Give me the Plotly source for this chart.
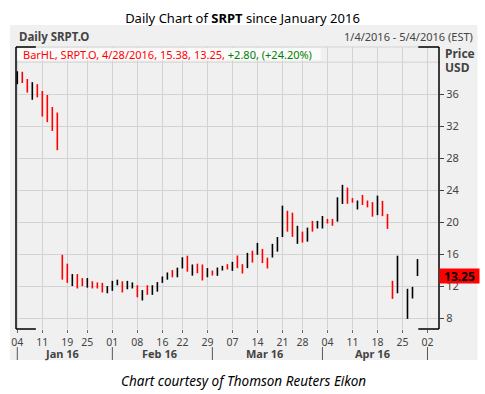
import pandas as pd
import plotly.graph_objects as go

# ---------------- data ----------------
holidays = ["2016-01-18", "2016-02-15", "2016-03-25"]
all_days = pd.bdate_range("2016-01-04", "2016-05-04")
trading_days = [d for d in all_days if d.strftime("%Y-%m-%d") not in holidays]

# daily high / low, Jan 4 .. Apr 28 2016 (None = halted day)
high = [38.87, 38.8, 37.9, 37.5, 37.25, 36.4, 35.9, 34.4, 33.7,
        15.9, 14.8, 13.5, 13.5, 13.0, 13.0, 12.6, 12.45, 12.4, 12.0,
        12.65, 12.8, 12.6, 12.65, 12.45, 12.1, 11.5, 12.1, 12.1, 12.5,
        13.2, 13.7, 14.0, 14.3, 15.6, 15.8, 14.7, 14.8, 14.7, 14.25,
        13.94, 14.32, 14.53, 14.74, 15.03, 15.82, 14.74, 16.15, 16.42, 17.4,
        16.65, 15.55, 17.28, 18.13, 22.06, 21.42, 21.18, 19.54, 18.81, 19.31,
        20.15, 20.15, 20.77, 20.4, 20.4, 23.1, 24.66, 24.32, 23.0, 22.7,
        23.4, 22.7, 22.5, 23.31, 22.66, 21.02, 12.66, 15.8, None, 11.66, 11.9, 15.38]
low = [37.25, 37.4, 36.2, 35.3, 35.6, 33.2, 32.5, 31.4, 29.0,
       12.8, 12.4, 12.0, 11.7, 12.0, 11.8, 11.7, 11.7, 11.2, 11.1,
       11.4, 12.1, 11.2, 11.6, 11.7, 10.6, 10.2, 10.9, 10.9, 11.3,
       12.4, 12.8, 13.1, 13.1, 14.2, 13.8, 13.3, 13.6, 12.7, 13.1,
       13.32, 13.28, 13.94, 14.07, 13.9, 14.24, 13.57, 14.24, 14.94, 15.92,
       14.87, 14.2, 15.57, 16.31, 18.13, 18.81, 18.15, 17.28, 17.44, 17.56,
       18.81, 19.2, 19.2, 19.83, 19.54, 20.06, 22.27, 22.29, 22.43, 21.58,
       22.14, 21.84, 20.68, 20.87, 20.75, 19.15, 10.4, 11.1, None, 7.9, 10.45, 13.25]
# 1 = up day (black), 0 = down day (red)
up = [1, 0, 0, 1, 0, 0, 0, 0, 0,
      0, 0, 1, 0, 0, 1, 0, 0, 0, 1,
      1, 1, 0, 1, 1, 0, 1, 0, 1, 1,
      1, 1, 0, 1, 1, 0, 1, 0, 0, 1,
      0, 1, 1, 0, 1, 0, 0, 1, 0, 1,
      0, 0, 1, 1, 1, 0, 0, 1, 0, 1,
      0, 1, 1, 0, 0, 1, 1, 0, 0, 1,
      0, 0, 0, 1, 0, 0, 0, 1, None, 1, 1, 1]

last_close = 13.25
week_ticks = ["2016-01-04", "2016-01-11", "2016-01-19", "2016-01-25", "2016-02-01",
              "2016-02-08", "2016-02-16", "2016-02-22", "2016-02-29", "2016-03-07",
              "2016-03-14", "2016-03-21", "2016-03-28", "2016-04-04", "2016-04-11",
              "2016-04-18", "2016-04-25", "2016-05-02"]
month_labels = ["Jan 16", "Feb 16", "Mar 16", "Apr 16"]
price_ticks = [8, 12, 16, 20, 24, 28, 32, 36]

# ---------------- build ----------------
day_index = {d.strftime("%Y-%m-%d"): i for i, d in enumerate(trading_days)}
tick_idx = [day_index[t] for t in week_ticks]
tick_txt = [t[-2:] for t in week_ticks]

def segs(flag):
    xs, ys = [], []
    for i, (h, l, u) in enumerate(zip(high, low, up)):
        if h is None or u != flag:
            continue
        xs += [i, i, None]
        ys += [l, h, None]
    return xs, ys

GRID = "#d3d3d3"
TXT = "#444444"
FONT = "Noto Sans"

fig = go.Figure()
for flag, col in [(0, "#ff0000"), (1, "#000000")]:
    xs, ys = segs(flag)
    fig.add_trace(go.Scatter(x=xs, y=ys, mode="lines",
                             line=dict(color=col, width=1.6),
                             hoverinfo="skip", showlegend=False))

# month boundaries (first trading day of each month)
months = sorted({(d.year, d.month) for d in trading_days})
first_idx = [min(i for i, d in enumerate(trading_days) if (d.year, d.month) == m) for m in months]
last_idx = [max(i for i, d in enumerate(trading_days) if (d.year, d.month) == m) for m in months]

shapes = []
# panel background
shapes.append(dict(type="rect", xref="paper", yref="paper", x0=-0.014, x1=1.091,
                   y0=-0.11, y1=1.078, fillcolor="#f0f0f0", line=dict(width=0), layer="below"))
# grid line at 40
shapes.append(dict(type="line", xref="paper", yref="y", x0=0, x1=1, y0=40, y1=40,
                   line=dict(color=GRID, width=1), layer="below"))
# legend box
shapes.append(dict(type="rect", xref="paper", yref="paper", x0=0.003, x1=0.72,
                   y0=0.953, y1=0.996, fillcolor="#fbfbfb", line=dict(width=0), layer="above"))
# gray top border
shapes.append(dict(type="line", xref="paper", yref="paper", x0=0, x1=1, y0=1, y1=1,
                   line=dict(color=GRID, width=1), layer="above"))
# black frame parts
for x in (0, 1):
    shapes.append(dict(type="line", xref="paper", yref="paper", x0=x, x1=x, y0=0, y1=1,
                       line=dict(color="black", width=1.5), layer="above"))
for y in (0, 1):
    shapes.append(dict(type="line", xref="paper", yref="paper", x0=0, x1=0.047, y0=y, y1=y,
                       line=dict(color="black", width=1.5), layer="above"))
    shapes.append(dict(type="line", xref="paper", yref="paper", x0=0.951, x1=1, y0=y, y1=y,
                       line=dict(color="black", width=1.5), layer="above"))
# month separators
for fi in first_idx:
    shapes.append(dict(type="line", xref="x", yref="paper", x0=fi, x1=fi, y0=-0.064, y1=-0.11,
                       line=dict(color="#555555", width=1)))

ann = []
ann.append(dict(text="Daily SRPT.O", x=0.002, y=1.0355, xref="paper", yref="paper",
                xanchor="left", yanchor="middle", showarrow=False,
                font=dict(family=FONT, size=11.5, color=TXT, weight="bold")))
ann.append(dict(text="1/4/2016 - 5/4/2016 (EST)", x=1.084, y=1.0355, xref="paper", yref="paper",
                xanchor="right", yanchor="middle", showarrow=False,
                font=dict(family=FONT, size=11, color=TXT)))
ann.append(dict(text="<span style='color:#ff0000'>BarHL, SRPT.O, 4/28/2016, 15.38, 13.25, </span>"
                     "<span style='color:#008000'>+2.80, (+24.20%)</span>",
                x=0.012, y=0.975, xref="paper", yref="paper", xanchor="left", yanchor="middle",
                showarrow=False, font=dict(family=FONT, size=11)))
ann.append(dict(text="<b>Price</b>", x=1.009, y=0.976, xref="paper", yref="paper",
                xanchor="left", yanchor="middle", showarrow=False,
                font=dict(family=FONT, size=12, color=TXT)))
ann.append(dict(text="<b>USD</b>", x=1.009, y=0.929, xref="paper", yref="paper",
                xanchor="left", yanchor="middle", showarrow=False,
                font=dict(family=FONT, size=12, color=TXT)))
ann.append(dict(text="<b>%.2f</b>" % last_close, x=1.0, y=last_close, xref="paper", yref="y",
                xanchor="left", yanchor="middle", showarrow=False, bgcolor="#ff0000",
                width=37, height=12, borderpad=1, align="center",
                font=dict(family=FONT, size=12, color="black")))
for lab, a, b in zip(month_labels, first_idx, last_idx):
    ann.append(dict(text="<b>%s</b>" % lab, x=(a + b) / 2, y=-0.087, xref="x", yref="paper",
                    xanchor="center", yanchor="middle", showarrow=False,
                    font=dict(family=FONT, size=11, color=TXT)))
ann.append(dict(text="<i>Chart courtesy of Thomson Reuters Eikon</i>", x=0.537, y=-0.184,
                xref="paper", yref="paper", xanchor="center", yanchor="middle", showarrow=False,
                font=dict(family=FONT, size=13.5, color="black")))

fig.update_layout(
    width=485, height=394,
    margin=dict(l=11, r=46, t=47, b=65),
    paper_bgcolor="white", plot_bgcolor="#f8f8f8",
    title=dict(text="Daily Chart of <b>SRPT</b> since January 2016", x=0.5, xanchor="center",
               y=1 - 18 / 394, yanchor="middle", yref="container",
               font=dict(family=FONT, size=13, color="black")),
    xaxis=dict(range=[-0.26, 84.3], tickvals=tick_idx, ticktext=tick_txt,
               showgrid=True, gridcolor=GRID, gridwidth=1, zeroline=False, showline=False,
               ticks="outside", ticklen=3, tickcolor="#666666",
               tickfont=dict(family=FONT, size=10.5, color=TXT)),
    yaxis=dict(side="right", range=[6.63, 41.9], tickvals=price_ticks,
               showgrid=True, gridcolor=GRID, gridwidth=1, zeroline=False, showline=False,
               ticks="outside", ticklen=4, tickcolor=TXT,
               tickfont=dict(family=FONT, size=11, color=TXT)),
    shapes=shapes, annotations=ann,
)

fig.write_html("out.html", config={"displayModeBar": False},
               post_script="document.body.style.margin='0';document.body.style.padding='0';")
